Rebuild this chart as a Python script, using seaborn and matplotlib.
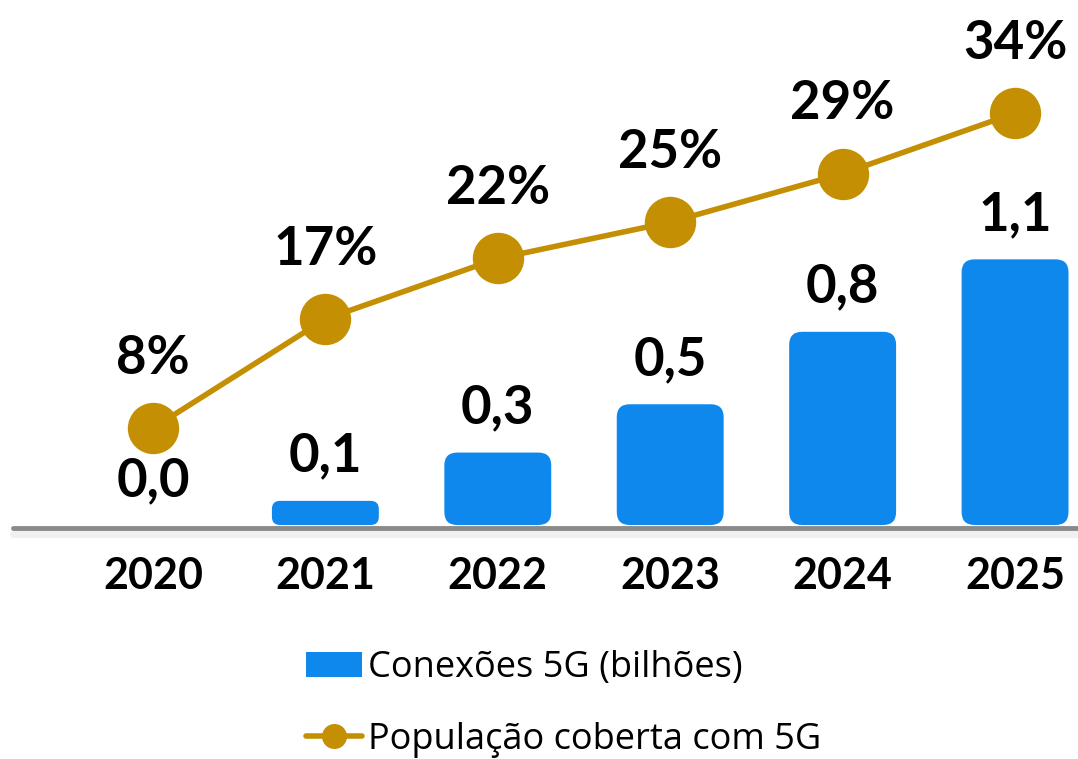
import matplotlib
matplotlib.use("Agg")
import matplotlib.pyplot as plt
import seaborn as sns
from matplotlib.patches import FancyBboxPatch, Patch
from matplotlib.lines import Line2D

# dados
anos = ["2020", "2021", "2022", "2023", "2024", "2025"]
conexoes = [0.0, 0.1, 0.3, 0.5, 0.8, 1.1]       # bilhoes
populacao = [8, 17, 22, 25, 29, 34]              # %

AZUL = "#0F88EE"
OURO = "#C58F03"


def main():
    sns.set_style("white")
    plt.rcParams["font.family"] = ["Lato", "DejaVu Sans"]
    plt.rcParams["text.color"] = "black"
    plt.rcParams["xtick.color"] = "black"

    fig = plt.figure(figsize=(10.78, 7.59), dpi=100)
    # eixo com o zero na linha de base (pixel 525)
    ax = fig.add_axes([0, 234 / 759, 1, 525 / 759])

    sns.barplot(x=anos, y=conexoes, color=AZUL, saturation=1, width=0.62, ax=ax)

    # cantos arredondados
    asp = 172.4 / 241.5
    for p in list(ax.patches):
        x, y, w, h = p.get_x(), p.get_y(), p.get_width(), p.get_height()
        p.remove()
        if h <= 0:
            continue
        r = min(0.075, h / asp / 3)
        ax.add_patch(FancyBboxPatch((x, y), w, h,
                                    boxstyle=f"round,pad=0,rounding_size={r}",
                                    mutation_aspect=asp, fc=AZUL, ec="none"))

    ax.set_xlim(-0.887, 5.365)
    ax.set_ylim(0, 525 / 241.5)

    for i, v in enumerate(conexoes):
        ax.annotate(f"{v:.1f}".replace(".", ","), (i, v), xytext=(0, 21),
                    textcoords="offset points", ha="center", va="baseline",
                    fontsize=38, fontweight="bold", color="black")

    # linha de base cinza com sombra
    ax.axhline(-3 / 241.5, xmin=0.012, xmax=1, color="#8A8A8A", lw=3.5, clip_on=False, zorder=5)
    ax.axhline(-9 / 241.5, xmin=0.012, xmax=1, color="#000000", lw=5, alpha=0.06, clip_on=False, zorder=4)

    ax.set_xticks(range(len(anos)))
    ax.set_xticklabels(anos, va="baseline", fontsize=31, fontweight="bold", color="black")
    ax.tick_params(axis="x", length=0, pad=46)
    ax.set_yticks([])
    ax.set_ylabel("")
    sns.despine(ax=ax, left=True, bottom=True)

    ax2 = ax.twinx()
    sns.lineplot(x=list(range(len(anos))), y=populacao, ax=ax2, color=OURO, lw=4,
                 marker="o", markersize=37, markeredgewidth=0)
    ax2.set_ylim(0, 525 / 12.115)
    ax2.set_yticks([])
    ax2.set_ylabel("")
    for s in ax2.spines.values():
        s.set_visible(False)
    for i, v in enumerate(populacao):
        ax2.annotate(f"{v}%", (i, v), xytext=(0, 39), textcoords="offset points",
                     ha="center", va="baseline", fontsize=38, fontweight="bold",
                     color="black")
    ax.set_xlim(-0.887, 5.365)

    handles = [
        Patch(facecolor=AZUL, edgecolor="none"),
        Line2D([0], [0], color=OURO, lw=4, marker="o", markersize=18, markeredgewidth=0),
    ]
    fig.legend(handles, ["Conexões 5G (bilhões)", "População coberta com 5G"],
               loc="upper left", bbox_to_anchor=(306 / 1078, 1 - 650 / 759),
               frameon=False, handlelength=1.55, handleheight=0.7,
               handletextpad=0.18, labelspacing=1.0, borderpad=0, borderaxespad=0,
               prop={"family": ["Open Sans", "DejaVu Sans"], "size": 26})

    fig.savefig("out.png", dpi=100)


if __name__ == "__main__":
    main()
